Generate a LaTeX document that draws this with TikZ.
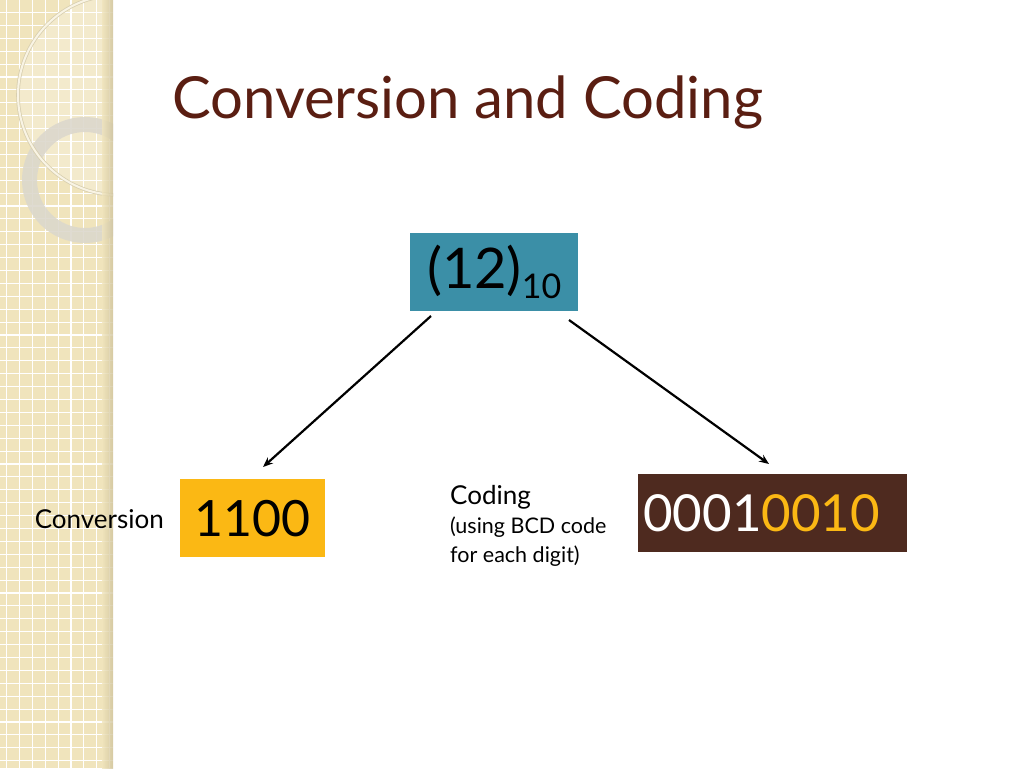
\documentclass[tikz,border=0pt]{standalone}
\usepackage{fontspec}
\setmainfont{Lato}
\usepackage{xcolor}
\usetikzlibrary{positioning, arrows.meta}

\definecolor{strip}{HTML}{F0E4BC}
\definecolor{stripdark}{HTML}{CFC39C}
\definecolor{ringgrey}{HTML}{DCD8CC}
\definecolor{titlebrown}{HTML}{5A1E12}
\definecolor{teal}{HTML}{3B8FA7}
\definecolor{gold}{HTML}{FBB814}
\definecolor{darkbrown}{HTML}{4E2A1F}

\tikzset{
  numbox/.style={minimum height=78pt, inner sep=0pt, anchor=north west},
  link/.style={-{Stealth[length=10pt,width=8pt]}, line width=2.2pt, black},
  caption/.style={font=\fontsize{26}{30}\selectfont, align=left, inner sep=0pt}
}

\begin{document}
\begin{tikzpicture}[x=1pt, y=-1pt]
  \useasboundingbox[fill=white] (0,0) rectangle (1024,768);

  % Left decorative strip
  \begin{scope}
    \clip (0,0) rectangle (113,768);
    \fill[strip] (0,0) rectangle (113,768);
    \foreach \i in {0,...,8}
      \draw[white, line width=1.1pt] (6.5+\i*12.9, 0) -- (6.5+\i*12.9, 768);
    \foreach \j in {0,...,59}
      \draw[white, line width=1.1pt] (0, 12.5+\j*12.9) -- (113, 12.5+\j*12.9);
    \fill[white, opacity=0.25] (118,95) circle (100pt);
    \draw[ringgrey, opacity=0.9, line width=15pt] (85,180) circle (55.5pt);
    \draw[stripdark!80, line width=3.6pt] (118,95) circle (100pt);
    \draw[white!60!strip, line width=2pt] (118,95) circle (100pt);
    \shade[left color=strip, right color=stripdark, opacity=0.8] (102,0) rectangle (113,768);
  \end{scope}

  % Title
  \node (title) [text=titlebrown, anchor=base west, inner sep=0pt,
        font=\fontsize{58}{64}\selectfont] at (172,118) {Conversion and Coding};

  % Number boxes
  \node (dec) [numbox, fill=teal, minimum width=168pt, font=\fontsize{56}{60}\selectfont]
    at (410,233) {(12)\raisebox{-10pt}{\fontsize{34}{36}\selectfont 10}};
  \node (bin) [numbox, fill=gold, minimum width=145pt, font=\fontsize{50}{56}\selectfont]
    at (180,479) {1100};
  \node (bcd) [numbox, fill=darkbrown, minimum width=269pt, font=\fontsize{51}{56}\selectfont]
    at (638,474) {\textcolor{white}{0001}\textcolor{gold}{0010}\hspace*{22pt}};

  % Labels
  \node (conv) [caption, anchor=east] at (164,519) {Conversion};
  \node (cod) [caption, anchor=north west] at (450,485)
    {Coding\\[-1pt]{\fontsize{21.5}{28}\selectfont (using BCD code}\\[-1pt]{\fontsize{21.5}{28}\selectfont for each digit)}};

  % Arrows
  \coordinate (decL) at (431,316);
  \coordinate (decR) at (569,320);
  \coordinate (binT) at (263,467);
  \coordinate (bcdT) at (769,464);
  \draw[link] (decL) -- (binT);
  \draw[link] (decR) -- (bcdT);
\end{tikzpicture}
\end{document}
